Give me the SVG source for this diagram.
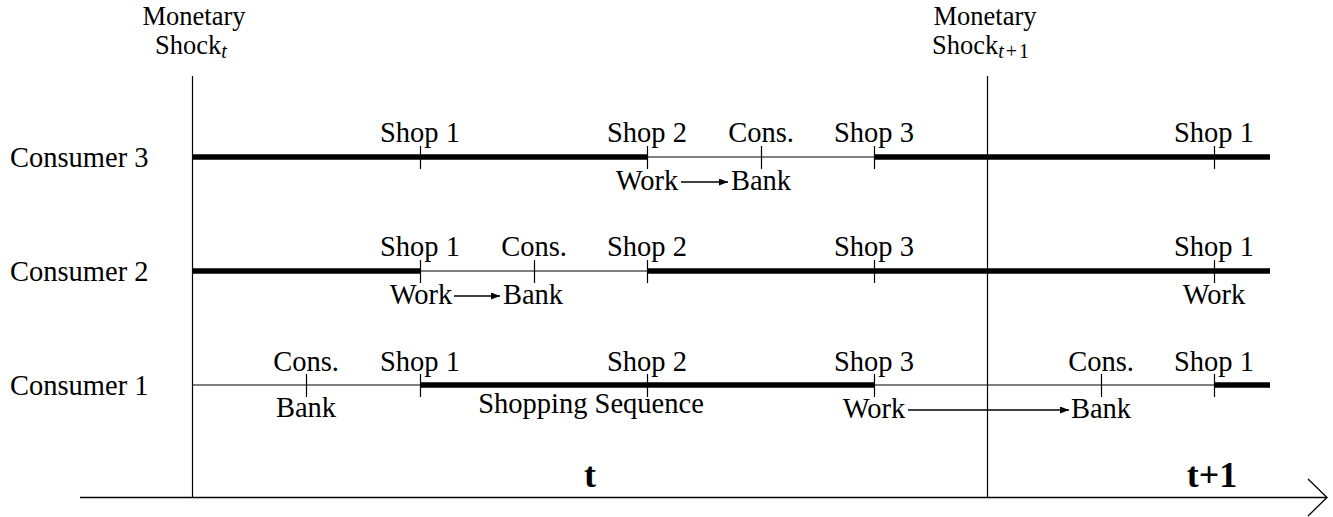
<svg xmlns="http://www.w3.org/2000/svg" width="1333" height="517" viewBox="0 0 1333 517" font-family="'Liberation Serif', 'DejaVu Serif', serif">
<style>
text{font-family:'Liberation Serif','DejaVu Serif',serif;font-size:28.5px;fill:#000}
.c{text-anchor:middle}
.m{font-size:26.5px}
.b{font-weight:bold;font-size:36px;text-anchor:middle}
.thin{stroke:#000;stroke-width:1.2;fill:none}
.thick{stroke:#000;stroke-width:5.5;fill:none}
.tick{stroke:#000;stroke-width:1.2}
.arr{stroke:#000;stroke-width:1.6;fill:none;marker-end:url(#ah)}
.sub{font-size:20px;font-style:italic}
.subn{font-size:20px}
</style>
<defs>
<marker id="ah" markerUnits="userSpaceOnUse" markerWidth="10" markerHeight="8" refX="9" refY="3.5" orient="auto">
<path d="M0,0 L9,3.5 L0,7 z" fill="#000"/>
</marker>
</defs>
<g id="axis">
<line x1="80" y1="497.5" x2="1327" y2="497.5" stroke="#000" stroke-width="1.5"/>
<polyline points="1308,479 1327,497.5 1308,516" fill="none" stroke="#000" stroke-width="1.3"/>
<line x1="192.5" y1="76" x2="192.5" y2="497" class="thin"/>
<line x1="987.5" y1="76" x2="987.5" y2="497" class="thin"/>
<text x="194" y="25" class="c m">Monetary</text>
<text x="155" y="54" class="m">Shock<tspan class="sub" dy="4">t</tspan></text>
<text x="985" y="25" class="c m">Monetary</text>
<text x="932" y="54" class="m">Shock<tspan class="sub" dy="4">t</tspan><tspan class="subn" dx="2">+</tspan><tspan class="subn" dx="2">1</tspan></text>
<text x="590" y="487" class="b">t</text>
<text x="1212" y="487" class="b">t+1</text>
</g>
<g id="consumer3">
<text x="10" y="167">Consumer 3</text>
<line x1="192" y1="157" x2="647" y2="157" class="thick"/>
<line x1="647" y1="157" x2="874" y2="157" class="thin"/>
<line x1="874" y1="157" x2="1270" y2="157" class="thick"/>
<path class="tick" d="M420.5,146V169M647.5,146V169M761.5,146V169M874.5,146V169M1214.5,146V169"/>
<text x="420" y="142" class="c">Shop 1</text>
<text x="647" y="142" class="c">Shop 2</text>
<text x="761" y="142" class="c">Cons.</text>
<text x="874" y="142" class="c">Shop 3</text>
<text x="1214" y="142" class="c">Shop 1</text>
<text x="647" y="190" class="c">Work</text>
<text x="761" y="190" class="c">Bank</text>
</g>
<g id="consumer2">
<text x="10" y="281">Consumer 2</text>
<line x1="192" y1="271" x2="420" y2="271" class="thick"/>
<line x1="420" y1="271" x2="647" y2="271" class="thin"/>
<line x1="647" y1="271" x2="1270" y2="271" class="thick"/>
<path class="tick" d="M420.5,260V283M534.5,260V283M647.5,260V283M874.5,260V283M1214.5,260V283"/>
<text x="420" y="256" class="c">Shop 1</text>
<text x="534" y="256" class="c">Cons.</text>
<text x="647" y="256" class="c">Shop 2</text>
<text x="874" y="256" class="c">Shop 3</text>
<text x="1214" y="256" class="c">Shop 1</text>
<text x="421" y="304" class="c">Work</text>
<text x="533" y="304" class="c">Bank</text>
<text x="1214" y="304" class="c">Work</text>
</g>
<g id="consumer1">
<text x="10" y="395">Consumer 1</text>
<line x1="192" y1="385" x2="420" y2="385" class="thin"/>
<line x1="420" y1="385" x2="874" y2="385" class="thick"/>
<line x1="874" y1="385" x2="1214" y2="385" class="thin"/>
<line x1="1214" y1="385" x2="1270" y2="385" class="thick"/>
<path class="tick" d="M306.5,374V397M420.5,374V397M647.5,374V397M874.5,374V397M1101.5,374V397M1214.5,374V397"/>
<text x="306" y="371" class="c">Cons.</text>
<text x="420" y="371" class="c">Shop 1</text>
<text x="647" y="371" class="c">Shop 2</text>
<text x="874" y="371" class="c">Shop 3</text>
<text x="1101" y="371" class="c">Cons.</text>
<text x="1214" y="371" class="c">Shop 1</text>
<text x="306" y="417" class="c">Bank</text>
<text x="591" y="413" class="c">Shopping Sequence</text>
<text x="874" y="418" class="c">Work</text>
<text x="1101" y="418" class="c">Bank</text>
</g>
<g id="connectors">
<line x1="681" y1="182" x2="728" y2="182" class="arr"/>
<line x1="454" y1="296" x2="500" y2="296" class="arr"/>
<line x1="908" y1="410" x2="1069" y2="410" class="arr"/>
</g>
</svg>
